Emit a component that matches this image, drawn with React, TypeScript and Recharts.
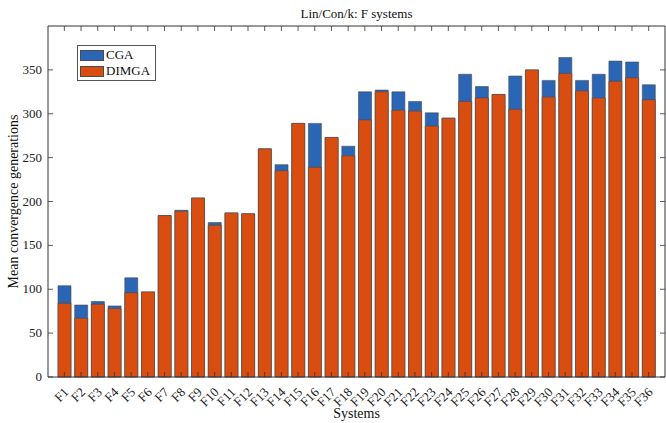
import { Bar, BarChart, XAxis, YAxis } from "recharts"

const systems = [
  "F1", "F2", "F3", "F4", "F5", "F6", "F7", "F8", "F9", "F10", "F11", "F12",
  "F13", "F14", "F15", "F16", "F17", "F18", "F19", "F20", "F21", "F22", "F23", "F24",
  "F25", "F26", "F27", "F28", "F29", "F30", "F31", "F32", "F33", "F34", "F35", "F36",
]

const cga = [
  104, 82, 86, 81, 113, 97, 184, 190, 204, 176, 187, 186,
  260, 242, 289, 289, 273, 263, 325, 327, 325, 314, 301, 295,
  345, 331, 322, 343, 350, 338, 364, 338, 345, 360, 359, 333,
]

const dimga = [
  84, 67, 83, 78, 96, 97, 184, 189, 204, 173, 187, 186,
  260, 235, 289, 239, 273, 252, 293, 325, 304, 303, 286, 295,
  314, 318, 322, 305, 350, 319, 346, 326, 318, 337, 341, 316,
]

const yTicks = [0, 50, 100, 150, 200, 250, 300, 350]

const W = 666
const H = 423
const LEFT = 48
const RIGHT = 665
const TOP = 26
const BOTTOM = 377
const FONT = "'Liberation Serif', 'DejaVu Serif', serif"
const BLUE = "#2a66b5"
const ORANGE = "#da4d10"
const EDGE = "#4a4a4a"
const AXIS = "#333"

const data = systems.map((s, i) => ({ name: s, cga: cga[i], dimga: dimga[i] }))

// y ticks: label on the left, inward marks on left and right box edges
function LeftTick({ y, payload }: any) {
  return (
    <g>
      <line x1={LEFT} x2={LEFT + 5} y1={y} y2={y} stroke={AXIS} strokeWidth={0.8} />
      <line x1={RIGHT - 5} x2={RIGHT} y1={y} y2={y} stroke={AXIS} strokeWidth={0.8} />
      <text x={LEFT - 6} y={y} dy={4} textAnchor="end" fontSize={13} fontFamily={FONT} fill="#222">
        {payload.value}
      </text>
    </g>
  )
}

// x ticks: rotated label, inward marks on bottom and top box edges
function BottomTick({ x, payload }: any) {
  return (
    <g>
      <line x1={x} x2={x} y1={BOTTOM - 5} y2={BOTTOM} stroke={AXIS} strokeWidth={0.8} />
      <line x1={x} x2={x} y1={TOP} y2={TOP + 5} stroke={AXIS} strokeWidth={0.8} />
      <text
        transform={`translate(${x + 5},${BOTTOM + 16}) rotate(-45)`}
        textAnchor="end"
        fontSize={13}
        fontFamily={FONT}
        fill="#222"
      >
        {payload.value}
      </text>
    </g>
  )
}

function LegendBox() {
  const items = [
    { label: "CGA", color: BLUE },
    { label: "DIMGA", color: ORANGE },
  ]
  return (
    <div
      style={{
        position: "absolute",
        left: 77,
        top: 45,
        width: 72,
        border: "1px solid #555",
        background: "#fff",
        padding: "1px 3px 1px 2px",
        fontFamily: FONT,
        fontSize: 13,
        lineHeight: "16px",
        color: "#111",
      }}
    >
      {items.map((it) => (
        <div key={it.label} style={{ display: "flex", alignItems: "center" }}>
          <span
            style={{
              display: "inline-block",
              width: 24,
              height: 11,
              background: it.color,
              border: `1px solid ${EDGE}`,
              marginRight: 2,
              boxSizing: "border-box",
            }}
          />
          {it.label}
        </div>
      ))}
    </div>
  )
}

export default function App() {
  return (
    <div style={{ position: "absolute", left: 0, top: 0, width: W, height: H, background: "#fff" }}>
      <BarChart
        width={W}
        height={H}
        data={data}
        margin={{ top: TOP, right: W - RIGHT, left: 0, bottom: 0 }}
        barSize={13}
        barGap={-13}
      >
        <text x={(LEFT + RIGHT) / 2} y={18} textAnchor="middle" fontSize={13} fontFamily={FONT} fill="#111">
          Lin/Con/k: F systems
        </text>
        <text x={(LEFT + RIGHT) / 2} y={418} textAnchor="middle" fontSize={14} fontFamily={FONT} fill="#111">
          Systems
        </text>
        <text
          transform={`translate(18,${(TOP + BOTTOM) / 2}) rotate(-90)`}
          textAnchor="middle"
          fontSize={14}
          fontFamily={FONT}
          fill="#111"
        >
          Mean convergence generations
        </text>
        <line x1={LEFT} x2={RIGHT} y1={TOP} y2={TOP} stroke={AXIS} strokeWidth={1} />
        <line x1={RIGHT} x2={RIGHT} y1={TOP} y2={BOTTOM} stroke={AXIS} strokeWidth={1} />
        <XAxis
          dataKey="name"
          height={H - BOTTOM}
          interval={0}
          padding={{ left: 8, right: 8 }}
          axisLine={{ stroke: AXIS }}
          tickLine={false}
          tick={<BottomTick />}
        />
        <YAxis
          width={LEFT}
          domain={[0, 400]}
          ticks={yTicks}
          interval={0}
          axisLine={{ stroke: AXIS }}
          tickLine={false}
          tick={<LeftTick />}
        />
        <Bar dataKey="cga" name="CGA" fill={BLUE} stroke={EDGE} strokeWidth={0.6} isAnimationActive={false} />
        <Bar dataKey="dimga" name="DIMGA" fill={ORANGE} stroke={EDGE} strokeWidth={0.6} isAnimationActive={false} />
      </BarChart>
      <LegendBox />
    </div>
  )
}
